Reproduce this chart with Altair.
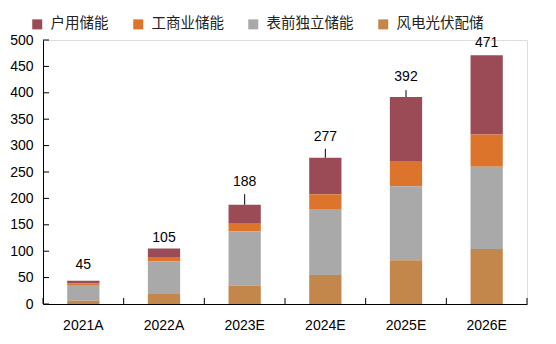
import altair as alt
import pandas as pd

categories = ["2021A", "2022A", "2023E", "2024E", "2025E", "2026E"]
series_names = ["户用储能", "工商业储能", "表前独立储能", "风电光伏配储"]
household = [5, 16, 36, 69, 121, 150]
commercial = [3, 8, 14, 28, 48, 61]
front_meter = [30, 62, 103, 125, 140, 156]
wind_pv = [6, 19, 35, 55, 83, 104]
totals = [45, 105, 188, 277, 392, 471]
# annotation heights (data units) for total labels and leader lines
label_level = [74, 125, 231, 316, 430, 494]
leader_top = [None, None, 208, 294, 405, None]
y_ticks = list(range(0, 501, 50))
colors = ["#9B4B55", "#DC742C", "#A9A9AA", "#C4874B"]

W, H = 484, 264
FONT = "Liberation Sans"
CJK = "Noto Sans CJK SC"

rows = []
stack_rank = {"风电光伏配储": 0, "表前独立储能": 1, "工商业储能": 2, "户用储能": 3}
for name, vals in zip(series_names, [household, commercial, front_meter, wind_pv]):
    for c, v in zip(categories, vals):
        rows.append({"cat": c, "series": name, "value": v, "rank": stack_rank[name]})
df = pd.DataFrame(rows)

y_axis = alt.Axis(title=None, values=y_ticks, ticks=False, tickSize=0,
                  grid=False, domainColor="black", domainWidth=1,
                  labelOverlap=False, labelFlush=False,
                  labelFont=FONT, labelFontSize=14, labelColor="black",
                  labelPadding=10)
y_scale = alt.Scale(domain=[0, 500], nice=False)

bars = alt.Chart(df).mark_bar().encode(
    x=alt.X("cat:N", sort=categories,
            scale=alt.Scale(paddingInner=0.6, paddingOuter=0.3),
            axis=alt.Axis(title=None, labelAngle=0, ticks=False, tickSize=0,
                          domainColor="black", domainWidth=1,
                          labelFont=FONT, labelFontSize=14, labelColor="black",
                          labelPadding=14)),
    y=alt.Y("value:Q", stack="zero", scale=y_scale, axis=y_axis),
    color=alt.Color("series:N",
                    scale=alt.Scale(domain=series_names, range=colors),
                    legend=alt.Legend(title=None, orient="none", direction="horizontal",
                                      legendX=-13, legendY=-23,
                                      symbolType="square", symbolSize=100,
                                      symbolStrokeWidth=0, symbolOpacity=1,
                                      labelFont=CJK, labelFontSize=14.5,
                                      labelColor="#222222", labelOffset=6,
                                      columnPadding=22)),
    order=alt.Order("rank:Q"),
)

lab_df = pd.DataFrame({"cat": categories, "total": totals, "lvl": label_level})
labels = alt.Chart(lab_df).mark_text(font=FONT, fontSize=14, color="black",
                                     baseline="middle", align="center").encode(
    x=alt.X("cat:N", sort=categories),
    y=alt.Y("lvl:Q", scale=y_scale, axis=y_axis),
    text=alt.Text("total:Q"),
)

lead_df = pd.DataFrame({"cat": categories, "total": totals, "top": leader_top}).dropna()
leaders = alt.Chart(lead_df).mark_rule(color="black", strokeWidth=1).encode(
    x=alt.X("cat:N", sort=categories),
    y=alt.Y("total:Q", scale=y_scale, axis=y_axis),
    y2=alt.Y2("top:Q"),
)

ytick = alt.Chart(pd.DataFrame({"v": y_ticks})).mark_rule(color="black", strokeWidth=1).encode(
    y=alt.Y("v:Q", scale=y_scale, axis=y_axis), x=alt.value(0), x2=alt.value(6))

xtick = alt.Chart(pd.DataFrame({"cat": categories})).mark_rule(color="black", strokeWidth=1).encode(
    x=alt.X("cat:N", sort=categories, bandPosition=0,
            scale=alt.Scale(paddingInner=0, paddingOuter=0), axis=None),
    y=alt.value(H), y2=alt.value(H - 6))

xtick_end = alt.Chart(pd.DataFrame({"a": [0]})).mark_rule(color="black", strokeWidth=1).encode(
    x=alt.value(W), y=alt.value(H), y2=alt.value(H - 6))

main = alt.layer(bars, labels, leaders, ytick)
chart = alt.layer(main, xtick, xtick_end).resolve_scale(x="independent").properties(
    width=W, height=H,
    autosize=alt.AutoSizeParams(type="none"),
    padding={"left": 43, "top": 40, "right": 29, "bottom": 40},
).configure_view(stroke=None).configure_axisY(labelOverlap=False).configure(background="white")

chart.save("out.html", embed_options={"renderer": "svg", "actions": False})
